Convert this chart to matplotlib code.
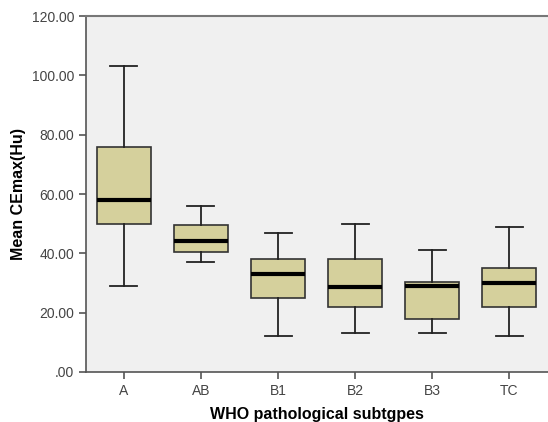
import numpy as np
import matplotlib
matplotlib.use("Agg")
import matplotlib.pyplot as plt
from matplotlib.ticker import FuncFormatter

# box statistics
groups = ["A", "AB", "B1", "B2", "B3", "TC"]
whislo = [29, 37, 12, 13, 13, 12]
q1     = [50, 40.3, 25, 22, 18, 22]
med    = [58, 44, 33, 28.5, 29, 30]
q3     = [76, 49.4, 38, 38, 30.4, 35]
whishi = [103, 56, 47, 50, 41, 49]

stats = [dict(label=g, whislo=a, q1=b, med=c, q3=d, whishi=e, fliers=[])
         for g, a, b, c, d, e in zip(groups, whislo, q1, med, q3, whishi)]

plt.rcParams['font.family'] = ['Liberation Sans', 'DejaVu Sans']

fig = plt.figure(figsize=(5.48, 4.22), dpi=100)
ax = fig.add_axes([0.157, 0.1185, 0.843, 0.8435])
ax.set_facecolor('#f0f0f0')

ax.bxp(stats, positions=np.arange(len(groups)), widths=0.7, capwidths=0.35,
       patch_artist=True, showfliers=False,
       boxprops=dict(facecolor='#d5d09c', edgecolor='#333333', linewidth=1.2),
       medianprops=dict(color='black', linewidth=3),
       whiskerprops=dict(color='#222222', linewidth=1.3),
       capprops=dict(color='#222222', linewidth=1.3))

ax.set_xlim(-0.49, 5.5)
ax.set_ylim(0, 120)
ax.set_yticks(np.arange(0, 121, 20))
ax.yaxis.set_major_formatter(FuncFormatter(lambda v, p: '.00' if v == 0 else '%.2f' % v))
ax.set_xticks(np.arange(len(groups)))
ax.set_xticklabels(groups)

for s in ['left', 'bottom']:
    ax.spines[s].set_color('#555555')
    ax.spines[s].set_linewidth(1.2)
ax.spines['top'].set_color('#777777')
ax.spines['top'].set_linewidth(1.5)
ax.spines['right'].set_visible(False)
ax.tick_params(axis='both', direction='out', length=5, width=1.2, color='#555555',
               labelsize=10, labelcolor='#444444')
ax.tick_params(axis='x', pad=4)

ax.set_ylabel('Mean CEmax(Hu)', fontsize=11.5, fontweight='bold', labelpad=4)
ax.set_xlabel('WHO pathological subtgpes', fontsize=11.5, fontweight='bold', labelpad=6)

fig.savefig('out.png', dpi=100)
